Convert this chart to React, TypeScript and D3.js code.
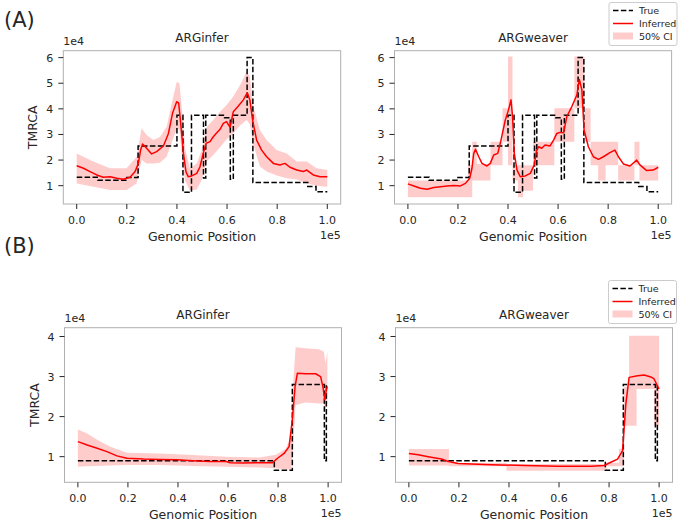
import React from "react";
import * as d3 from "d3";

// ---------- tick values ----------
const X_TICKS = [0, 0.2, 0.4, 0.6, 0.8, 1.0];
const Y_TICKS_A = [1, 2, 3, 4, 5, 6];
const Y_TICKS_B = [1, 2, 3, 4];

// ---------- (A) true TMRCA (step function; positions in 1e5 units, values in 1e4) ----------
const trueStartsA = [0, 0.085, 0.2, 0.245, 0.4, 0.424, 0.458, 0.506, 0.515, 0.59, 0.613, 0.625, 0.68, 0.703, 0.922, 0.955];
const trueValsA = [1.33, 1.21, 1.32, 2.55, 3.75, 0.74, 3.75, 1.3, 3.75, 3.65, 1.25, 3.75, 6.0, 1.12, 0.97, 0.76];

// ---------- (A) ARGinfer ----------
const infPosA = [0, 0.027, 0.053, 0.08, 0.106, 0.133, 0.16, 0.186, 0.213, 0.233, 0.246, 0.255, 0.263, 0.279, 0.299, 0.319, 0.346, 0.366, 0.383, 0.399, 0.407, 0.415, 0.426, 0.436, 0.445, 0.459, 0.479, 0.492, 0.505, 0.516, 0.532, 0.545, 0.559, 0.572, 0.585, 0.598, 0.612, 0.618, 0.625, 0.645, 0.665, 0.681, 0.691, 0.702, 0.718, 0.738, 0.758, 0.785, 0.811, 0.831, 0.851, 0.878, 0.904, 0.918, 0.944, 0.971, 1.0];
const infValA = [1.78, 1.68, 1.55, 1.42, 1.33, 1.35, 1.29, 1.25, 1.33, 1.55, 1.87, 2.39, 2.63, 2.46, 2.24, 2.33, 2.55, 3.04, 3.85, 4.28, 4.22, 3.43, 2.26, 1.55, 1.35, 1.38, 1.48, 1.74, 2.26, 2.65, 2.72, 2.91, 3.07, 3.2, 3.43, 3.5, 3.28, 3.56, 3.89, 4.11, 4.35, 4.63, 4.35, 3.56, 2.78, 2.39, 2.13, 1.87, 1.81, 1.87, 1.72, 1.61, 1.55, 1.61, 1.42, 1.35, 1.35];
const infCiPosA = [0, 0.066, 0.133, 0.199, 0.239, 0.259, 0.279, 0.306, 0.332, 0.359, 0.379, 0.399, 0.41, 0.419, 0.432, 0.452, 0.479, 0.499, 0.519, 0.545, 0.572, 0.598, 0.625, 0.652, 0.678, 0.691, 0.705, 0.731, 0.758, 0.798, 0.838, 0.878, 0.918, 0.957, 1.0];
const infCiHiA = [2.26, 1.94, 1.68, 1.68, 2.13, 3.24, 2.98, 2.78, 2.9, 3.3, 4.2, 5.06, 5.0, 4.09, 2.46, 1.68, 1.87, 2.39, 3.3, 3.56, 3.89, 4.15, 4.48, 4.93, 5.45, 5.26, 4.09, 3.17, 2.78, 2.39, 2.26, 1.94, 1.94, 1.68, 1.61];
const infCiLoA = [1.09, 0.96, 0.83, 0.83, 1.09, 2.0, 1.87, 1.87, 1.9, 2.13, 2.7, 3.2, 3.2, 2.2, 1.2, 0.8, 0.85, 1.22, 1.95, 2.2, 2.5, 2.8, 3.05, 3.35, 3.56, 3.4, 2.6, 1.75, 1.55, 1.4, 1.29, 1.24, 1.1, 1.0, 0.96];

// ---------- (A) ARGweaver ----------
const weaPosA = [0, 0.024, 0.05, 0.077, 0.104, 0.13, 0.157, 0.183, 0.21, 0.23, 0.247, 0.256, 0.263, 0.27, 0.283, 0.296, 0.316, 0.329, 0.343, 0.359, 0.372, 0.389, 0.402, 0.412, 0.418, 0.425, 0.436, 0.449, 0.469, 0.489, 0.505, 0.513, 0.522, 0.535, 0.548, 0.568, 0.582, 0.595, 0.608, 0.622, 0.635, 0.655, 0.675, 0.685, 0.695, 0.704, 0.721, 0.741, 0.761, 0.781, 0.807, 0.827, 0.841, 0.861, 0.887, 0.914, 0.927, 0.954, 0.98, 1.0];
const weaValA = [1.07, 0.99, 0.9, 0.86, 0.93, 0.96, 0.99, 1.01, 0.99, 1.09, 1.29, 1.68, 2.26, 2.42, 2.13, 1.87, 1.77, 1.87, 2.2, 2.26, 2.78, 3.56, 3.96, 4.35, 3.7, 2.26, 1.61, 1.35, 1.38, 1.48, 1.81, 2.33, 2.52, 2.46, 2.59, 2.55, 2.78, 3.04, 3.08, 3.07, 3.7, 4.09, 4.54, 5.15, 4.74, 3.17, 2.52, 2.13, 2.03, 2.13, 2.29, 2.39, 2.13, 1.85, 1.77, 2.0, 1.81, 1.59, 1.61, 1.72];
const weaCiStartsA = [0, 0.24, 0.257, 0.275, 0.33, 0.378, 0.4, 0.418, 0.44, 0.46, 0.5, 0.585, 0.665, 0.705, 0.73, 0.76, 0.79, 0.84, 0.905, 0.925];
const weaCiLoA = [0.55, 0.55, 1.2, 1.2, 1.8, 2.72, 1.8, 1.2, 0.55, 0.8, 1.8, 2.72, 4.02, 2.72, 1.8, 1.2, 1.8, 1.2, 1.8, 1.2];
const weaCiHiA = [1.2, 1.8, 2.72, 1.85, 2.72, 4.02, 6.04, 1.8, 1.8, 1.8, 2.72, 4.02, 6.04, 4.02, 2.72, 2.72, 2.72, 1.8, 2.72, 1.8];

// ---------- (B) true TMRCA ----------
const trueStartsB = [0, 0.785, 0.857, 0.985, 0.993];
const trueValsB = [0.9, 0.66, 2.8, 0.9, 2.8];

// ---------- (B) ARGinfer ----------
const infPosB = [0, 0.037, 0.077, 0.116, 0.156, 0.196, 0.262, 0.328, 0.394, 0.46, 0.526, 0.593, 0.608, 0.659, 0.725, 0.778, 0.798, 0.824, 0.844, 0.857, 0.868, 0.877, 0.91, 0.95, 0.97, 0.979, 0.987, 0.993, 0.997];
const infValB = [1.375, 1.29, 1.21, 1.125, 1.02, 0.96, 0.94, 0.93, 0.92, 0.9, 0.88, 0.88, 0.85, 0.84, 0.85, 0.85, 0.96, 1.08, 1.25, 1.92, 2.75, 3.08, 3.07, 3.07, 3.0, 2.75, 2.42, 2.67, 2.75];
const infCiPosB = [0, 0.037, 0.077, 0.13, 0.196, 0.328, 0.46, 0.593, 0.725, 0.791, 0.831, 0.851, 0.86, 0.87, 0.91, 0.963, 0.983, 0.989, 0.997];
const infCiHiB = [1.68, 1.58, 1.42, 1.25, 1.1, 1.08, 1.04, 1.0, 0.98, 1.05, 1.2, 1.5, 2.8, 3.73, 3.71, 3.68, 3.62, 3.33, 3.62];
const infCiLoB = [0.75, 0.76, 0.77, 0.78, 0.79, 0.79, 0.77, 0.75, 0.73, 0.71, 0.68, 0.68, 1.2, 2.29, 2.35, 2.33, 2.33, 2.17, 2.33];

// ---------- (B) ARGweaver ----------
const weaPosB = [0, 0.037, 0.077, 0.13, 0.157, 0.197, 0.329, 0.462, 0.595, 0.728, 0.781, 0.807, 0.834, 0.854, 0.867, 0.88, 0.914, 0.94, 0.967, 0.98, 0.993, 1.0];
const weaValB = [1.08, 1.05, 1.0, 0.94, 0.88, 0.83, 0.8, 0.78, 0.76, 0.76, 0.78, 0.86, 0.94, 1.15, 2.31, 2.98, 3.02, 3.04, 2.99, 2.94, 2.77, 2.69];
const weaCiStartsB = [0, 0.16, 0.39, 0.79, 0.84, 0.86, 0.88, 0.91, 0.98];
const weaCiLoB = [0.78, 0.76, 0.65, 0.76, 0.76, 1.77, 1.77, 2.69, 1.77];
const weaCiHiB = [1.19, 0.84, 0.82, 0.85, 1.2, 2.75, 4.02, 4.02, 4.02];

const FONT = "DejaVu Sans, Verdana, sans-serif";
const TXT = "#262626";
const SPINE = "#b0b0b0";

type Geo = { left: number; right: number; top: number; bottom: number; x0: number; x1: number; y0: number; y1: number };

function stepPts(starts: number[], vals: number[]): [number, number][] {
  const pts: [number, number][] = starts.map((s, i) => [s, vals[i]]);
  pts.push([1.0, vals[vals.length - 1]]);
  return pts;
}

function Panel(props: {
  geo: Geo; title: string; yTicks: number[]; yLabel: boolean;
  trueS: number[]; trueV: number[];
  linePos: number[]; lineVal: number[];
  ciPos: number[]; ciLo: number[]; ciHi: number[]; ciStep: boolean;
}) {
  const g = props.geo;
  const x = d3.scaleLinear().domain([g.x0, g.x1]).range([g.left, g.right]);
  const y = d3.scaleLinear().domain([g.y0, g.y1]).range([g.bottom, g.top]);

  let band: string;
  if (props.ciStep) {
    const pts = props.ciPos.map((p, i) => ({ p, lo: props.ciLo[i], hi: props.ciHi[i] }));
    pts.push({ p: 1.0, lo: props.ciLo[props.ciLo.length - 1], hi: props.ciHi[props.ciHi.length - 1] });
    band = d3.area<any>().x((d) => x(d.p)).y0((d) => y(d.lo)).y1((d) => y(d.hi)).curve(d3.curveStepAfter)(pts) as string;
  } else {
    const pts = props.ciPos.map((p, i) => ({ p, lo: props.ciLo[i], hi: props.ciHi[i] }));
    band = d3.area<any>().x((d) => x(d.p)).y0((d) => y(d.lo)).y1((d) => y(d.hi))(pts) as string;
  }
  const truePath = d3.line<[number, number]>().x((d) => x(d[0])).y((d) => y(d[1])).curve(d3.curveStepAfter)(stepPts(props.trueS, props.trueV)) as string;
  const inf = d3.line<[number, number]>().x((d) => x(d[0])).y((d) => y(d[1]))(props.linePos.map((p, i) => [p, props.lineVal[i]] as [number, number])) as string;
  const cx = (g.left + g.right) / 2;
  const cy = (g.top + g.bottom) / 2;
  const clipId = "clip" + Math.round(g.left) + "_" + Math.round(g.top);

  return (
    <g>
      <defs>
        <clipPath id={clipId}>
          <rect x={g.left} y={g.top} width={g.right - g.left} height={g.bottom - g.top} />
        </clipPath>
      </defs>
      <g clipPath={`url(#${clipId})`}>
        <path d={band} fill="red" fillOpacity={0.2} stroke="none" />
        <path d={truePath} fill="none" stroke="black" strokeWidth={1.5} strokeDasharray="5.5,2.4" />
        <path d={inf} fill="none" stroke="red" strokeWidth={1.5} strokeLinejoin="round" />
      </g>
      <rect x={g.left} y={g.top} width={g.right - g.left} height={g.bottom - g.top} fill="none" stroke={SPINE} strokeWidth={1} />
      {X_TICKS.map((t) => (
        <g key={"x" + t}>
          <line x1={x(t)} x2={x(t)} y1={g.bottom} y2={g.bottom + 5} stroke={TXT} strokeWidth={1} />
          <text x={x(t)} y={g.bottom + 20} textAnchor="middle" fontSize={11} fill={TXT} fontFamily={FONT}>{t.toFixed(1)}</text>
        </g>
      ))}
      {props.yTicks.map((t) => (
        <g key={"y" + t}>
          <line x1={g.left - 5} x2={g.left} y1={y(t)} y2={y(t)} stroke={TXT} strokeWidth={1} />
          <text x={g.left - 10} y={y(t) + 4} textAnchor="end" fontSize={11} fill={TXT} fontFamily={FONT}>{t}</text>
        </g>
      ))}
      <text x={g.left} y={g.top - 6} fontSize={11} fill={TXT} fontFamily={FONT}>1e4</text>
      <text x={g.right} y={g.bottom + 35} textAnchor="end" fontSize={11} fill={TXT} fontFamily={FONT}>1e5</text>
      <text x={cx} y={g.top - 9} textAnchor="middle" fontSize={12} fill={TXT} fontFamily={FONT}>{props.title}</text>
      <text x={cx} y={g.bottom + 37} textAnchor="middle" fontSize={12.5} fill={TXT} fontFamily={FONT}>Genomic Position</text>
      {props.yLabel && (
        <text transform={`translate(${g.left - 26},${cy}) rotate(-90)`} textAnchor="middle" fontSize={12.5} fill={TXT} fontFamily={FONT}>TMRCA</text>
      )}
    </g>
  );
}

function Legend(props: { x: number; y: number }) {
  const { x, y } = props;
  return (
    <g fontFamily={FONT} fontSize={9.5} fill={TXT}>
      <rect x={x} y={y} width={68} height={43} rx={2} fill="white" fillOpacity={0.8} stroke="#cccccc" strokeWidth={1} />
      <line x1={x + 4} x2={x + 24} y1={y + 8} y2={y + 8} stroke="black" strokeWidth={1.5} strokeDasharray="5.5,2.4" />
      <text x={x + 30} y={y + 11.5}>True</text>
      <line x1={x + 4} x2={x + 24} y1={y + 21} y2={y + 21} stroke="red" strokeWidth={1.5} />
      <text x={x + 30} y={y + 24.5}>Inferred</text>
      <rect x={x + 4} y={y + 30} width={20} height={7} fill="red" fillOpacity={0.2} />
      <text x={x + 30} y={y + 37.5}>50% CI</text>
    </g>
  );
}

export default function App() {
  const geoAL: Geo = { left: 63.3, right: 340.7, top: 50.7, bottom: 204, x0: -0.0535, x1: 1.0535, y0: 0.285, y1: 6.27 };
  const geoAR: Geo = { left: 394.5, right: 671.6, top: 50.7, bottom: 204, x0: -0.0535, x1: 1.0535, y0: 0.285, y1: 6.27 };
  const geoBL: Geo = { left: 64.5, right: 341.5, top: 327.7, bottom: 482.3, x0: -0.0535, x1: 1.0535, y0: 0.36, y1: 4.22 };
  const geoBR: Geo = { left: 395.5, right: 672.5, top: 327.7, bottom: 482.3, x0: -0.0535, x1: 1.0535, y0: 0.36, y1: 4.22 };
  return (
    <svg width={683} height={522} style={{ position: "absolute", left: 0, top: 0, background: "white" }}>
      <rect x={0} y={0} width={683} height={522} fill="white" />
      <text x={4} y={27} fontSize={21} fill={TXT} fontFamily={FONT}>(A)</text>
      <text x={4} y={253} fontSize={21} fill={TXT} fontFamily={FONT}>(B)</text>
      <Panel geo={geoAL} title="ARGinfer" yTicks={Y_TICKS_A} yLabel={true}
        trueS={trueStartsA} trueV={trueValsA} linePos={infPosA} lineVal={infValA}
        ciPos={infCiPosA} ciLo={infCiLoA} ciHi={infCiHiA} ciStep={false} />
      <Panel geo={geoAR} title="ARGweaver" yTicks={Y_TICKS_A} yLabel={false}
        trueS={trueStartsA} trueV={trueValsA} linePos={weaPosA} lineVal={weaValA}
        ciPos={weaCiStartsA} ciLo={weaCiLoA} ciHi={weaCiHiA} ciStep={true} />
      <Panel geo={geoBL} title="ARGinfer" yTicks={Y_TICKS_B} yLabel={true}
        trueS={trueStartsB} trueV={trueValsB} linePos={infPosB} lineVal={infValB}
        ciPos={infCiPosB} ciLo={infCiLoB} ciHi={infCiHiB} ciStep={false} />
      <Panel geo={geoBR} title="ARGweaver" yTicks={Y_TICKS_B} yLabel={false}
        trueS={trueStartsB} trueV={trueValsB} linePos={weaPosB} lineVal={weaValB}
        ciPos={weaCiStartsB} ciLo={weaCiLoB} ciHi={weaCiHiB} ciStep={true} />
      <Legend x={609} y={2.5} />
      <Legend x={608.5} y={280.5} />
    </svg>
  );
}
